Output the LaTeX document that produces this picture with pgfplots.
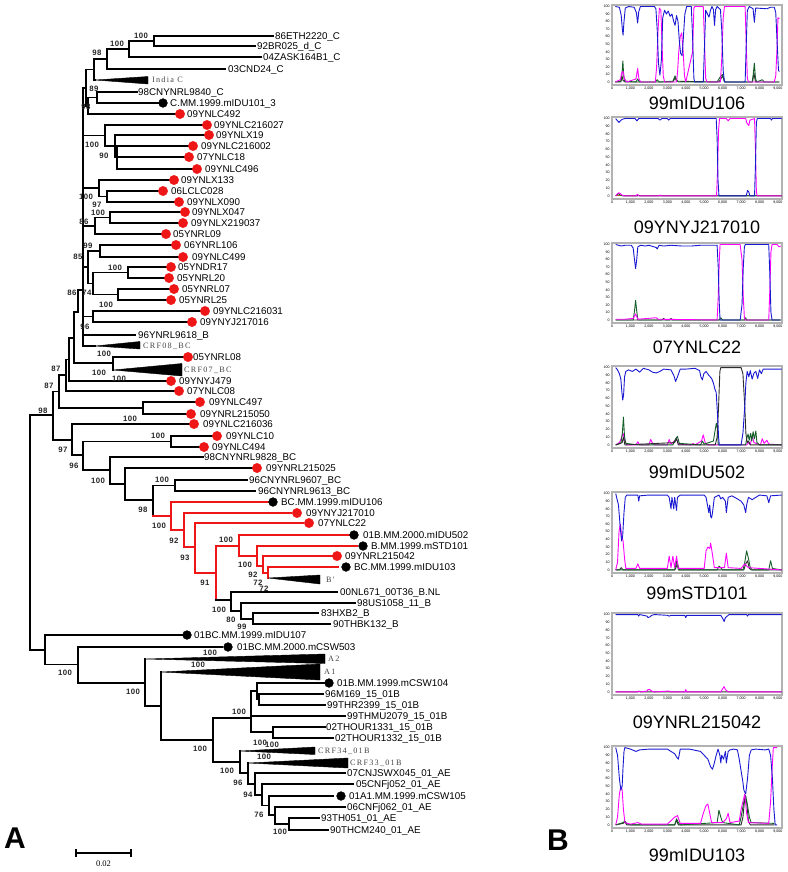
\documentclass[border=0pt]{standalone}
\usepackage{pgfplots}
\pgfplotsset{compat=1.18}
\usepackage{fontspec}
\setmainfont{Liberation Sans}
\newfontfamily\serifclade[LetterSpace=15]{Liberation Serif}
\newfontfamily\bootfont[LetterSpace=6]{Liberation Sans}
\newfontfamily\timesf{Liberation Serif}
\definecolor{tipred}{RGB}{238,22,22}
\definecolor{cblue}{RGB}{25,25,210}
\definecolor{cmag}{RGB}{255,0,255}
\definecolor{cgreen}{RGB}{20,95,40}
\definecolor{cdark}{RGB}{45,45,45}
\definecolor{cbrown}{RGB}{190,90,40}
\definecolor{cladegray}{RGB}{70,70,70}
\tikzset{
  tree/.style={black, line width=1.3pt, line cap=rect, line join=miter},
  redt/.style={tipred, line width=2pt, line cap=rect, line join=miter},
  leaf/.style={anchor=west, inner sep=0pt, font=\fontsize{9.8}{10}\selectfont, text height=7pt, text depth=0pt},
  clade/.style={anchor=west, inner sep=0pt, font=\serifclade\fontsize{8.2}{9}\selectfont, text=cladegray, text height=5.4pt, text depth=0pt},
  boot/.style={inner sep=0pt, font=\bootfont\bfseries\fontsize{7.8}{8}\selectfont, text=black!85, text height=5.6pt, text depth=0pt}
}
\newcommand{\br}[6][tree]{\addplot[#1] coordinates {(#5,#3) (#2,#3) (#2,#4) (#6,#4)};}
\newcommand{\sg}[5][tree]{\addplot[#1] coordinates {(#2,#3) (#4,#5)};}
\newcommand{\tri}[5]{\addplot[fill=black, draw=black, line width=0.4pt] coordinates {(#1,#2) (#3,#4) (#3,#5) (#1,#2)};}
\newcommand{\lf}[3]{\node[leaf] at (axis cs:#1,#2) {#3};}
\newcommand{\cl}[3]{\node[clade] at (axis cs:#1,#2) {#3};}
\newcommand{\bs}[3]{\node[boot] at (axis cs:#1,#2) {#3};}
\pgfplotsset{panel/.style={anchor=north west, width=170pt, height=81pt, scale only axis,
  xmin=0, xmax=9220, ymin=-4, ymax=102,
  axis line style={draw=gray!60, line width=1.3pt},
  xtick={0,1000,...,9000}, ytick={0,10,...,100},
  tick align=outside, major tick length=1.2pt, tick style={black, line width=0.3pt},
  tick label style={font=\fontsize{3.6}{4}\selectfont},
  xticklabel style={inner sep=1pt}, yticklabel style={inner sep=1pt},
  /pgf/number format/assume math mode=true,
  clip=false,
  every axis plot/.append style={line width=0.9pt, line join=round}}}
\newcommand{\ptitle}[2]{\node[font=\fontsize{18}{20}\selectfont, anchor=center] at ([yshift=-#1pt]rel axis cs:0.5,0) {#2};}

\begin{document}
\begin{tikzpicture}
\begin{axis}[at={(0pt,0pt)}, anchor=north west, width=787pt, height=872pt, scale only axis,
  xmin=0, xmax=787, ymin=0, ymax=872, y dir=reverse,
  axis line style={draw=none}, xtick=\empty, ytick=\empty, clip=false,
  axis background/.style={fill=white}]
% ---------------- C clade
\br{154}{36}{46}{273}{255}
\br{129}{41}{57}{154}{261}
\br{107}{49}{69}{129}{225}
\br{94}{59}{80}{107}{95}
\tri{95}{80}{148}{76.5}{84}
\br{97}{92}{103}{137}{159}
\br{88}{97.5}{114}{97}{176}
\br{86}{69.5}{106}{94}{88}
% ---------------- BC upper
\br{117}{146}{169}{190}{193}
\sg{117}{157}{186}{157}
\br{115}{135}{157}{205}{117}
\br{105}{125}{146}{203}{115}
\br{107}{191}{202}{158}{175}
\br{99}{180}{196.5}{170}{107}
\br{110}{212}{223}{182}{180}
\br{95}{217.5}{234}{110}{161}
\br{100}{245}{257}{172}{180}
\br{128}{267}{278}{167}{165}
\br{118}{289}{300}{170}{167}
\br{93}{272.5}{294.5}{128}{118}
\br{88}{251}{283.5}{100}{93}
\br{93}{311}{322}{202}{188}
\sg{83}{88}{83}{346}
\sg{83}{88}{86}{88}
\sg{83}{135.5}{105}{135.5}
\sg{83}{188}{99}{188}
\sg{83}{226}{95}{226}
\sg{83}{267}{88}{267}
\sg{83}{316.5}{93}{316.5}
\sg{83}{335}{135}{335}
\sg{83}{346}{95}{346}
\tri{95}{346}{140}{341.5}{349}
\addplot[tree] coordinates {(83,290) (78,290) (78,312) (74,312) (74,363) (113,363)};
\br{113}{357}{370}{183}{113}
\tri{113}{370}{182}{363.5}{376}
\addplot[tree] coordinates {(74,338) (69,338) (69,381) (166,381)};
\addplot[tree] coordinates {(69,359.5) (66,359.5) (66,391) (175,391)};
\addplot[tree] coordinates {(66,375) (59,375) (59,408) (143,408)};
\br{143}{402}{414}{196}{187}
\addplot[tree] coordinates {(59,391.5) (53,391.5) (53,440) (72,440)};
\addplot[tree] coordinates {(53,415) (30,415) (30,650) (45,650)};
\addplot[tree] coordinates {(190,424) (72,424) (72,455) (83,455)};
\br{171}{436}{447}{213}{200}
\addplot[tree] coordinates {(171,441.5) (83,441.5) (83,470) (110,470)};
\addplot[tree] coordinates {(203,457) (110,457) (110,484) (125,484)};
\addplot[tree] coordinates {(254,468) (125,468) (125,500) (153,500)};
\br{175}{480}{491}{247}{255}
\addplot[tree] coordinates {(175,485.5) (153,485.5) (153,516)};
% ---------------- red clade
\sg[redt]{153}{516}{171}{516}
\br[redt]{171}{502}{530}{268}{184}
\br[redt]{184}{513}{547}{291}{195}
\br[redt]{195}{523}{572.5}{303}{216}
\addplot[redt] coordinates {(239,545.5) (216,545.5) (216,600)};
\sg{216}{600}{231}{600}
\br[redt]{239}{535}{556}{349}{257}
\br[redt]{257}{546}{566}{357}{263}
\br[redt]{263}{556}{572.5}{333}{268}
\br[redt]{268}{567}{578}{338}{268}
\tri{268}{578}{320}{575}{584}
% ---------------- B
\br{231}{592}{611}{337}{241}
\br{241}{603}{619}{355}{253}
\br{253}{613}{624}{318}{330}
% ---------------- lower clade
\br{45}{635}{664.5}{183}{78}
\br{78}{647}{683}{222}{145}
\br{145}{659}{706}{145}{161}
\tri{145}{659}{325}{654}{663.5}
\br{161}{672}{740}{161}{213}
\tri{161}{672}{320}{664}{680}
\br{213}{718}{762}{251}{240}
\addplot[tree] coordinates {(257,691) (251,691) (251,732) (273,732)};
\sg{251}{716}{345}{716}
\br{257}{683}{699.5}{325}{259}
\br{259}{694}{705}{323}{325}
\br{273}{727}{738}{325}{333}
\br{240}{751}{773}{240}{248}
\tri{240}{751}{315}{747}{754.5}
\br{248}{763}{784}{248}{255}
\tri{248}{763}{348}{758}{768}
\br{255}{773}{795}{345}{262}
\br{262}{784}{805.5}{353}{269}
\br{269}{796}{815}{333}{275}
\br{275}{807}{824}{345}{289}
\br{289}{818}{830}{319}{328}
% ---------------- scale bar
\addplot[black, line width=1.2pt] coordinates {(76,853) (131,853)};
\addplot[black, line width=1.2pt] coordinates {(76,849) (76,857)};
\addplot[black, line width=1.2pt] coordinates {(131,849) (131,857)};
% ---------------- tip dots
\addplot[only marks, mark=*, mark size=4.7pt, mark options={draw=tipred, fill=tipred}] coordinates {
(180,114) (207,125) (209,135) (193,146) (189,157) (197,169) (174,180) (163,191) (179,202)
(185,212) (183,223) (166,234) (176,245) (183,257) (171,267) (169,278) (174,289) (171,300)
(205,311) (192,322) (188,357) (171,381) (179,391) (200,402) (191,414) (194,424) (217,436)
(204,447) (257,468) (297,513) (309,523) (337,556)};
\addplot[only marks, mark=*, mark size=4.4pt, mark options={draw=black, fill=black}] coordinates {
(163,103) (273,502) (354,535) (363,546) (346,567) (187,635) (228,647) (329,683) (341,796)};
% ---------------- leaf labels
\lf{275}{36}{86ETH2220\_C}
\lf{257}{46}{92BR025\_d\_C}
\lf{263}{57}{04ZASK164B1\_C}
\lf{228}{69}{03CND24\_C}
\cl{152}{80}{India C}
\lf{138}{92}{98CNYNRL9840\_C}
\lf{170}{103}{C.MM.1999.mIDU101\_3}
\lf{187}{114}{09YNLC492}
\lf{214}{125}{09YNLC216027}
\lf{216}{135}{09YNLX19}
\lf{201}{146}{09YNLC216002}
\lf{197}{157}{07YNLC18}
\lf{205}{169}{09YNLC496}
\lf{181}{180}{09YNLX133}
\lf{171}{191}{06LCLC028}
\lf{187}{202}{09YNLX090}
\lf{192}{212}{09YNLX047}
\lf{191}{223}{09YNLX219037}
\lf{173}{234}{05YNRL09}
\lf{184}{245}{06YNRL106}
\lf{192}{257}{09YNLC499}
\lf{178}{267}{05YNDR17}
\lf{177}{278}{05YNRL20}
\lf{182}{289}{05YNRL07}
\lf{179}{300}{05YNRL25}
\lf{213}{311}{09YNLC216031}
\lf{200}{322}{09YNYJ217016}
\lf{138}{335}{96YNRL9618\_B}
\cl{143}{346}{CRF08\_BC}
\lf{193}{357}{05YNRL08}
\cl{184}{370}{CRF07\_BC}
\lf{179}{381}{09YNYJ479}
\lf{187}{391}{07YNLC08}
\lf{209}{402}{09YNLC497}
\lf{200}{414}{09YNRL215050}
\lf{203}{424}{09YNLC216036}
\lf{226}{436}{09YNLC10}
\lf{212}{447}{09YNLC494}
\lf{204}{457}{98CNYNRL9828\_BC}
\lf{266}{468}{09YNRL215025}
\lf{249}{480}{96CNYNRL9607\_BC}
\lf{258}{491}{96CNYNRL9613\_BC}
\lf{281}{502}{BC.MM.1999.mIDU106}
\lf{306}{513}{09YNYJ217010}
\lf{318}{523}{07YNLC22}
\lf{363}{535}{01B.MM.2000.mIDU502}
\lf{371}{546}{B.MM.1999.mSTD101}
\lf{345}{556}{09YNRL215042}
\lf{354}{567}{BC.MM.1999.mIDU103}
\cl{326}{580}{B'}
\lf{340}{592}{00NL671\_00T36\_B.NL}
\lf{357}{603}{98US1058\_11\_B}
\lf{321}{613}{83HXB2\_B}
\lf{333}{624}{90THBK132\_B}
\lf{194}{635}{01BC.MM.1999.mIDU107}
\lf{237}{647}{01BC.MM.2000.mCSW503}
\cl{328}{659}{A2}
\cl{324}{672}{A1}
\lf{337}{683}{01B.MM.1999.mCSW104}
\lf{325}{694}{96M169\_15\_01B}
\lf{327}{705}{99THR2399\_15\_01B}
\lf{347}{716}{99THMU2079\_15\_01B}
\lf{326}{727}{02THOUR1331\_15\_01B}
\lf{335}{738}{02THOUR1332\_15\_01B}
\cl{318}{751}{CRF34\_01B}
\cl{350}{763}{CRF33\_01B}
\lf{347}{773}{07CNJSWX045\_01\_AE}
\lf{356}{784}{05CNFj052\_01\_AE}
\lf{349}{796}{01A1.MM.1999.mCSW105}
\lf{347}{807}{06CNFj062\_01\_AE}
\lf{321}{818}{93TH051\_01\_AE}
\lf{330}{830}{90THCM240\_01\_AE}
% ---------------- bootstrap values
\bs{141}{36}{100} \bs{117}{44}{100} \bs{97}{53}{98} \bs{94}{89}{89} \bs{86}{107}{98}
\bs{92}{145}{100} \bs{104}{156}{90} \bs{86}{197}{100} \bs{97}{205}{97} \bs{98}{213}{100}
\bs{84}{222}{86} \bs{88}{246}{99} \bs{78}{257}{85} \bs{115}{268}{100} \bs{72}{293}{86}
\bs{87}{293}{74} \bs{106}{305}{100} \bs{85}{327}{96} \bs{104}{354}{100} \bs{99}{373}{100}
\bs{119}{379}{100} \bs{56}{369}{87} \bs{49}{386}{87} \bs{43}{411}{98} \bs{130}{419}{100}
\bs{158}{436}{100} \bs{63}{450}{97} \bs{74}{466}{96} \bs{98}{481}{100} \bs{162}{480}{100}
\bs{143}{510}{98} \bs{159}{526}{100} \bs{174}{541}{92} \bs{185}{558}{93} \bs{226}{540}{100}
\bs{205}{583}{91} \bs{245}{565}{100} \bs{253}{575}{92} \bs{258}{583}{72} \bs{264}{589}{72}
\bs{219}{610}{100} \bs{231}{620}{80} \bs{242}{627}{99} \bs{65}{673}{100} \bs{210}{653}{100}
\bs{198}{665}{100} \bs{133}{692}{100} \bs{239}{712}{100} \bs{200}{749}{100} \bs{260}{743}{100}
\bs{272}{745}{100} \bs{227}{771}{100} \bs{264}{757}{100} \bs{238}{783}{96} \bs{248}{795}{94}
\bs{259}{815}{76} \bs{280}{832}{100}
% ---------------- letters and scale text
\node[font=\timesf\fontsize{8.5}{9}\selectfont] at (axis cs:103.5,864) {0.02};
\node[font=\bfseries\fontsize{30}{30}\selectfont] at (axis cs:15,838) {A};
\node[font=\bfseries\fontsize{30}{30}\selectfont] at (axis cs:558,840) {B};
\end{axis}

% ================= panel 1
\begin{axis}[panel, at={(612pt,-5pt)}, height=80pt]
\addplot[cdark] coordinates {(180,0)(480,0)(540,8)(600,2)(700,0)(3300,0)(3350,2)(3420,6)(3500,1)(5800,0)(5850,2)(6000,8)(6100,0)(7620,0)(7700,12)(7780,0)(9080,0)};
\addplot[cgreen] coordinates {(180,0)(480,1)(540,10)(590,28)(640,6)(700,1)(1300,0)(1390,4)(1480,0)(2350,0)(2450,3)(2550,0)(3300,1)(3420,8)(3500,3)(3600,0)(5700,0)(5850,6)(5990,10)(6080,2)(6150,0)(7600,0)(7660,10)(7720,25)(7780,5)(7850,0)(8150,3)(8250,0)(9080,0)};
\addplot[cmag] coordinates {(180,0)(450,3)(530,12)(600,14)(680,4)(800,0)(1300,4)(1390,18)(1460,4)(1560,0)(2350,0)(2420,20)(2500,70)(2570,98)(2650,95)(2720,45)(2780,8)(2850,0)(3500,0)(3560,15)(3620,40)(3700,60)(3780,65)(3860,40)(3930,8)(4000,0)(4370,40)(4440,98)(4500,100)(4950,100)(5020,50)(5080,5)(5150,0)(5880,0)(5950,30)(6030,85)(6100,100)(7220,100)(7280,50)(7340,5)(7400,0)(8800,0)(8880,8)(8950,45)(9000,85)(9080,84)};
\addplot[cblue] coordinates {(180,100)(400,99)(500,88)(560,70)(600,62)(650,80)(720,98)(900,100)(1200,99)(1320,92)(1390,78)(1450,93)(1540,100)(2300,100)(2380,97)(2450,70)(2520,25)(2600,9)(2680,30)(2750,85)(2850,95)(2950,90)(3050,94)(3150,87)(3250,90)(3350,80)(3420,75)(3500,88)(3580,80)(3650,55)(3720,38)(3800,35)(3860,55)(3950,90)(4050,100)(4300,100)(4370,60)(4440,5)(4480,0)(4950,0)(5020,50)(5080,95)(5180,90)(5260,86)(5340,95)(5420,100)(5500,96)(5560,75)(5620,96)(5700,100)(5880,96)(5950,70)(6030,15)(6100,0)(7220,0)(7280,50)(7340,95)(7450,100)(7650,97)(7720,79)(7790,98)(8400,97)(8600,99)(8800,99)(8880,92)(8950,55)(9030,15)(9080,14)};
\ptitle{18}{99mIDU106}
\end{axis}

% ================= panel 2
\begin{axis}[panel, at={(612pt,-117pt)}, height=82pt]
\addplot[cbrown] coordinates {(200,0)(9200,0)};
\addplot[cgreen] coordinates {(200,0)(350,3)(450,1)(600,0)(1400,0)(1450,1)(1500,0)(9200,0)};
\addplot[cmag] coordinates {(200,0)(300,3)(380,4)(450,3)(550,1)(700,0)(1300,0)(1380,2)(1450,0)(2550,0)(2620,1)(2700,0)(5670,0)(5720,30)(5780,85)(5830,100)(6200,100)(6300,97)(6400,100)(7250,100)(7320,94)(7420,91)(7480,98)(7730,100)(7780,60)(7830,5)(7880,0)(9200,0)};
\addplot[cblue] coordinates {(200,100)(300,97)(380,95)(450,97)(550,99)(700,100)(1250,100)(1350,97)(1450,100)(2500,100)(2600,98)(2700,100)(3000,100)(3080,98)(3150,100)(5650,100)(5700,75)(5750,20)(5800,0)(7280,0)(7350,7)(7420,5)(7480,0)(7730,0)(7780,40)(7830,95)(7880,100)(8600,100)(8650,98)(8700,100)(9200,100)};
\ptitle{28}{09YNYJ217010}
\end{axis}

% ================= panel 3
\begin{axis}[panel, at={(612pt,-243pt)}, height=80pt]
\addplot[cdark] coordinates {(200,0)(2700,0)(2800,2)(2900,0)(3100,0)(3200,2)(3300,0)(9150,0)};
\addplot[cgreen] coordinates {(200,0)(1150,0)(1220,12)(1280,26)(1340,12)(1400,0)(5800,0)(5900,3)(6000,0)(7200,0)(7250,3)(7300,0)(9150,0)};
\addplot[cmag] coordinates {(200,1)(700,1)(1150,2)(1280,8)(1400,1)(2400,3)(2500,1)(5700,0)(5760,30)(5820,80)(5860,100)(6950,100)(7050,80)(7120,30)(7180,3)(7230,0)(8500,0)(8560,40)(8620,90)(8680,100)(8950,100)(9050,97)(9150,98)};
\addplot[cblue] coordinates {(200,100)(500,98)(700,99)(1050,99)(1150,95)(1220,80)(1280,68)(1340,80)(1400,97)(1550,99)(1800,98)(2000,99)(2400,96)(2450,94)(2550,99)(2800,98)(3200,99)(3800,98)(4300,98)(4800,99)(5700,99)(5760,70)(5820,20)(5860,0)(6950,0)(7050,20)(7120,70)(7180,97)(7230,100)(8500,100)(8560,60)(8620,10)(8680,0)(9150,0)};
\ptitle{24}{07YNLC22}
\end{axis}

% ================= panel 4
\begin{axis}[panel, at={(612pt,-366pt)}, height=82pt]
\addplot[cmag] coordinates {(200,0)(400,3)(500,8)(600,15)(700,5)(800,0)(1300,0)(1400,4)(1500,0)(2000,0)(2100,7)(2200,2)(2300,0)(3000,0)(3100,7)(3200,1)(3500,8)(3600,1)(4300,0)(4400,2)(4500,0)(4850,5)(4950,13)(5050,3)(5200,0)(7300,0)(7400,3)(7500,0)(7600,12)(7700,3)(8050,0)(8150,8)(8250,2)(8400,6)(8500,1)(9200,0)};
\addplot[cgreen] coordinates {(200,0)(480,2)(560,15)(620,36)(680,10)(750,2)(1400,0)(3300,0)(3450,8)(3550,11)(3650,2)(4800,0)(4900,5)(5000,1)(5500,5)(5600,20)(5660,28)(5720,20)(5760,0)(7250,0)(7300,8)(7380,14)(7440,6)(7520,15)(7580,5)(7650,17)(7720,8)(7800,18)(7860,3)(8000,0)(9200,0)};
\addplot[cdark] coordinates {(200,0)(550,3)(620,10)(700,0)(3400,3)(3500,8)(3600,0)(5600,0)(5700,10)(5780,50)(5850,95)(5900,100)(7000,100)(7100,92)(7200,50)(7260,15)(7330,3)(7400,5)(7500,0)(9200,0)};
\addplot[cblue] coordinates {(200,100)(300,97)(400,92)(480,85)(530,70)(580,58)(630,65)(680,88)(750,95)(900,97)(1100,95)(1300,98)(1500,94)(1700,99)(2000,97)(2200,94)(2400,93)(2600,95)(2800,98)(3200,97)(3350,90)(3450,82)(3550,88)(3700,98)(4000,98)(4500,99)(4750,96)(4820,88)(4900,84)(4980,92)(5100,95)(5250,90)(5400,86)(5500,80)(5580,72)(5650,68)(5720,40)(5780,10)(5820,0)(7000,0)(7100,15)(7200,50)(7260,80)(7330,95)(7420,88)(7500,96)(7600,85)(7700,93)(7800,95)(7900,86)(8000,97)(8100,92)(8200,98)(8500,98)(9200,98)};
\ptitle{24}{99mIDU502}
\end{axis}

% ================= panel 5
\begin{axis}[panel, at={(612pt,-492pt)}, height=81pt]
\addplot[cdark] coordinates {(200,0)(400,0)(500,3)(600,0)(3400,0)(3450,2)(3550,8)(3650,0)(7150,0)(7250,8)(7350,12)(7450,2)(7550,0)(9200,0)};
\addplot[cgreen] coordinates {(200,0)(3400,0)(3500,12)(3600,0)(5700,0)(5800,5)(5900,3)(6000,0)(7100,0)(7200,10)(7300,25)(7400,15)(7500,3)(7600,0)(8500,0)(8600,12)(8700,2)(9200,0)};
\addplot[cmag] coordinates {(200,0)(300,10)(380,50)(450,60)(520,45)(600,38)(680,15)(750,2)(1300,2)(1400,8)(1500,2)(3000,2)(3100,18)(3200,3)(3300,18)(3400,3)(3500,18)(3600,2)(5000,2)(5100,25)(5200,30)(5300,28)(5350,35)(5450,20)(5550,3)(6100,3)(6200,22)(6300,3)(7000,2)(7200,8)(7400,3)(9200,0)};
\addplot[cblue] coordinates {(200,100)(350,85)(450,55)(520,38)(580,45)(650,75)(720,95)(800,98)(1400,98)(1450,90)(1500,97)(2000,98)(3000,98)(3100,95)(3200,80)(3250,95)(3350,80)(3400,95)(3500,78)(3550,95)(3700,98)(5000,98)(5100,95)(5200,82)(5250,75)(5300,85)(5350,70)(5400,68)(5450,75)(5550,95)(5800,98)(5900,93)(6000,95)(6150,90)(6200,75)(6300,95)(6500,97)(6800,93)(7000,90)(7150,85)(7250,75)(7300,85)(7400,95)(7600,92)(7800,95)(8000,98)(8400,97)(8500,88)(8600,97)(9200,98)};
\ptitle{20}{99mSTD101}
\end{axis}

% ================= panel 6
\begin{axis}[panel, at={(612pt,-613pt)}, height=82pt]
\addplot[cdark] coordinates {(200,0)(1400,0)(1450,1)(1550,0)(9200,0)};
\addplot[cmag] coordinates {(200,0)(1400,0)(1450,1)(1500,0)(1900,1)(1950,3)(2050,3)(2150,1)(2300,0)(3000,1)(3100,1)(3200,0)(3950,0)(4000,3)(4050,0)(5900,0)(6000,4)(6080,7)(6150,3)(6250,1)(6350,0)(9200,0)};
\addplot[cblue] coordinates {(200,100)(1400,100)(1450,98)(1500,100)(1900,98)(1950,96)(2050,97)(2150,99)(2300,100)(3000,99)(3100,98)(3200,99)(3950,99)(4000,96)(4050,99)(5900,99)(6000,95)(6080,91)(6150,96)(6250,98)(6350,100)(7300,100)(7350,98)(7400,100)(9200,100)};
\ptitle{27}{09YNRL215042}
\end{axis}

% ================= panel 7
\begin{axis}[panel, at={(612pt,-746pt)}, height=82pt]
\addplot[cdark] coordinates {(200,0)(600,2)(700,4)(800,0)(3400,0)(3500,6)(3600,0)(7000,0)(7100,10)(7200,35)(7300,30)(7400,5)(7500,0)(8800,0)};
\addplot[cgreen] coordinates {(200,0)(600,3)(700,5)(800,2)(1000,0)(3400,0)(3500,8)(3600,3)(3700,0)(5700,3)(5800,19)(5900,10)(6000,3)(6900,0)(7000,10)(7150,30)(7250,38)(7350,25)(7450,10)(7550,3)(8800,2)};
\addplot[cmag] coordinates {(200,0)(300,10)(400,40)(480,50)(550,45)(620,20)(700,3)(1000,1)(1400,3)(1600,1)(3000,1)(3400,10)(3550,12)(3700,2)(4800,2)(4950,15)(5100,25)(5200,27)(5300,15)(5400,3)(6000,3)(6200,8)(6300,15)(6400,3)(6900,5)(7000,20)(7100,30)(7200,40)(7300,15)(7400,3)(8500,2)(8600,30)(8700,80)(8750,100)(8950,100)};
\addplot[cblue] coordinates {(200,100)(300,90)(400,60)(480,45)(550,50)(600,75)(650,95)(700,100)(1000,98)(1300,95)(1500,97)(2000,98)(3000,98)(3200,95)(3400,92)(3500,88)(3600,85)(3700,98)(4200,98)(4800,95)(5000,90)(5200,85)(5350,75)(5450,72)(5550,80)(5650,90)(5750,98)(5850,90)(5900,80)(5950,90)(6050,85)(6150,95)(6200,80)(6300,95)(6400,97)(6600,98)(6800,97)(6900,85)(7000,70)(7100,55)(7150,45)(7250,40)(7350,60)(7450,90)(7550,97)(7800,98)(8300,97)(8500,98)(8600,90)(8700,60)(8780,20)(8850,0)(8950,0)};
\ptitle{27}{99mIDU103}
\end{axis}
\end{tikzpicture}
\end{document}
